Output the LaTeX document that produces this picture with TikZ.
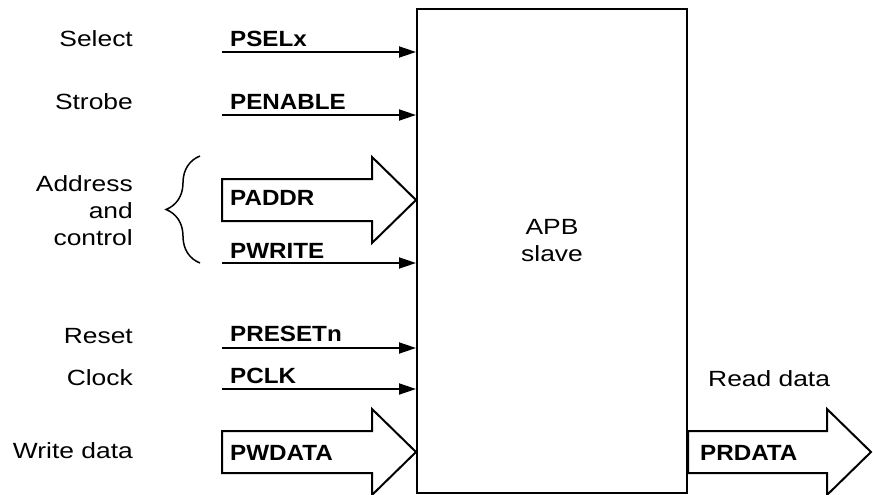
\documentclass[tikz,border=0pt]{standalone}
\usepackage{fontspec}
\setmainfont[FakeStretch=1.2]{Liberation Sans}
\newfontfamily\sigfont[FakeStretch=1.1]{Liberation Sans}
\usetikzlibrary{arrows.meta,positioning,calc,decorations.pathreplacing}
\tikzset{
  >={Triangle[length=17pt,width=11pt]},
  txt/.style={font=\fontsize{22}{27}\selectfont},
  slavebox/.style={draw, line width=2pt, minimum width=270pt, minimum height=484pt, inner sep=0pt},
  sig/.style={->, line width=1.8pt},
  bus/.style={draw, line width=2pt, line join=miter, fill=white},
  desc/.style={txt, anchor=base east, inner sep=0pt, align=right},
  signame/.style={font=\fontsize{22}{27}\sigfont\bfseries, anchor=base west, inner sep=0pt},
  curly/.style={decorate, decoration={brace, amplitude=34pt}, line width=1.5pt},
}
% wide bus arrow: #1 = tail, #2 = tip (same height)
\newcommand{\busarrow}[2]{%
  \draw[bus] ($(#1)+(0,-21)$) -- ($(#2)+(-44,-21)$) -- ($(#2)+(-44,-43)$) -- (#2)
    -- ($(#2)+(-44,43)$) -- ($(#2)+(-44,21)$) -- ($(#1)+(0,21)$) -- cycle;}

\begin{document}
\begin{tikzpicture}[x=1pt, y=-1pt]
  \useasboundingbox (0,0) rectangle (873,495);

  \node[slavebox] (apb) at (552,251) {};
  \node[txt, align=center] (apbtxt) at ([yshift=10pt]apb.center) {APB\\slave};

  % left side descriptions
  \node[desc] (select) at (133,47) {Select};
  \node[desc] (strobe) at (133,110) {Strobe};
  \node[desc, anchor=east] (addrctl) at (133,211) {Address\\and\\control};
  \node[desc] (reset) at (133,343) {Reset};
  \node[desc] (clock) at (133,385) {Clock};
  \node[desc] (wrdata) at (133,458) {Write data};

  % signal names
  \node[signame] (psel) at (230,47) {PSELx};
  \node[signame] (penable) at (230,110) {PENABLE};
  \node[signame] (pwrite) at (230,258) {PWRITE};
  \node[signame] (preset) at (230,341) {PRESETn};
  \node[signame] (pclk) at (230,383) {PCLK};

  \coordinate (selin) at (222,52);
  \coordinate (enin) at (222,115);
  \coordinate (addrin) at (222,200);
  \coordinate (wrin) at (222,263);
  \coordinate (rstin) at (222,348);
  \coordinate (clkin) at (222,389);
  \coordinate (wdin) at (222,452);
  \coordinate (rdtip) at (871,452);

  \draw[sig] (selin) -- (apb.west |- selin);
  \draw[sig] (enin) -- (apb.west |- enin);
  \draw[sig] (wrin) -- (apb.west |- wrin);
  \draw[sig] (rstin) -- (apb.west |- rstin);
  \draw[sig] (clkin) -- (apb.west |- clkin);

  \busarrow{addrin}{apb.west |- addrin}
  \busarrow{wdin}{apb.west |- wdin}
  \busarrow{apb.east |- rdtip}{rdtip}

  \node[signame] (paddr) at (230,205) {PADDR};
  \node[signame] (pwdata) at (230,460) {PWDATA};
  \node[signame] (prdata) at (700,460) {PRDATA};
  \node[txt, anchor=base west, inner sep=0pt] (rddata) at (708,386) {Read data};

  \draw[curly] (200,263) -- (200,156);
\end{tikzpicture}
\end{document}
